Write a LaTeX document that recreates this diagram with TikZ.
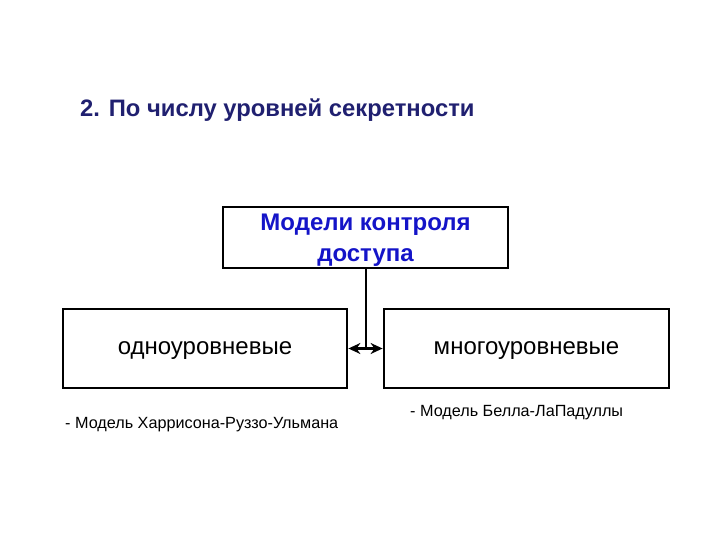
\documentclass[tikz,border=0pt]{standalone}
\usepackage{fontspec}
\setmainfont{Liberation Sans}
\usetikzlibrary{arrows.meta}
\definecolor{titlenavy}{RGB}{32,32,112}
\definecolor{boxblue}{RGB}{20,20,200}
\begin{document}
\begin{tikzpicture}[x=1pt,y=-1pt,
  box/.style={draw=black,line width=2.8pt,inner sep=0pt,align=center},
  conn/.style={line width=2.4pt},
  lbl/.style={inner sep=0pt,anchor=west,font=\fontsize{16.2}{18}\selectfont}]
\useasboundingbox (0,0) rectangle (720,540);
\node[anchor=west,inner sep=0pt,text=titlenavy,font=\bfseries\fontsize{23.8}{26}\selectfont] (title) at (80,110) {2. По числу уровней секретности};
\node[box,minimum width=285pt,minimum height=61pt,text=boxblue,font=\bfseries\fontsize{24}{31}\selectfont,text depth=0pt] (top) at (365.5,237.5) {Модели контроля\\доступа};
\node[box,minimum width=284pt,minimum height=79pt,font=\fontsize{24}{26}\selectfont,text depth=0pt] (left) at (205,348.5) {одноуровневые};
\node[box,minimum width=285pt,minimum height=79pt,font=\fontsize{24}{26}\selectfont,text depth=0pt] (right) at (526.5,348.5) {многоуровневые};
\coordinate (mid) at (366,349);
\draw[conn] (top.south -| mid) -- (mid);
\draw[conn,{Stealth[length=12pt,width=11pt]}-{Stealth[length=12pt,width=11pt]}] (left.east) -- (right.west);
\node[lbl] (l1) at (65,425) {- Модель Харрисона-Руззо-Ульмана};
\node[lbl] (l2) at (410,413) {- Модель Белла-ЛаПадуллы};
\end{tikzpicture}
\end{document}
